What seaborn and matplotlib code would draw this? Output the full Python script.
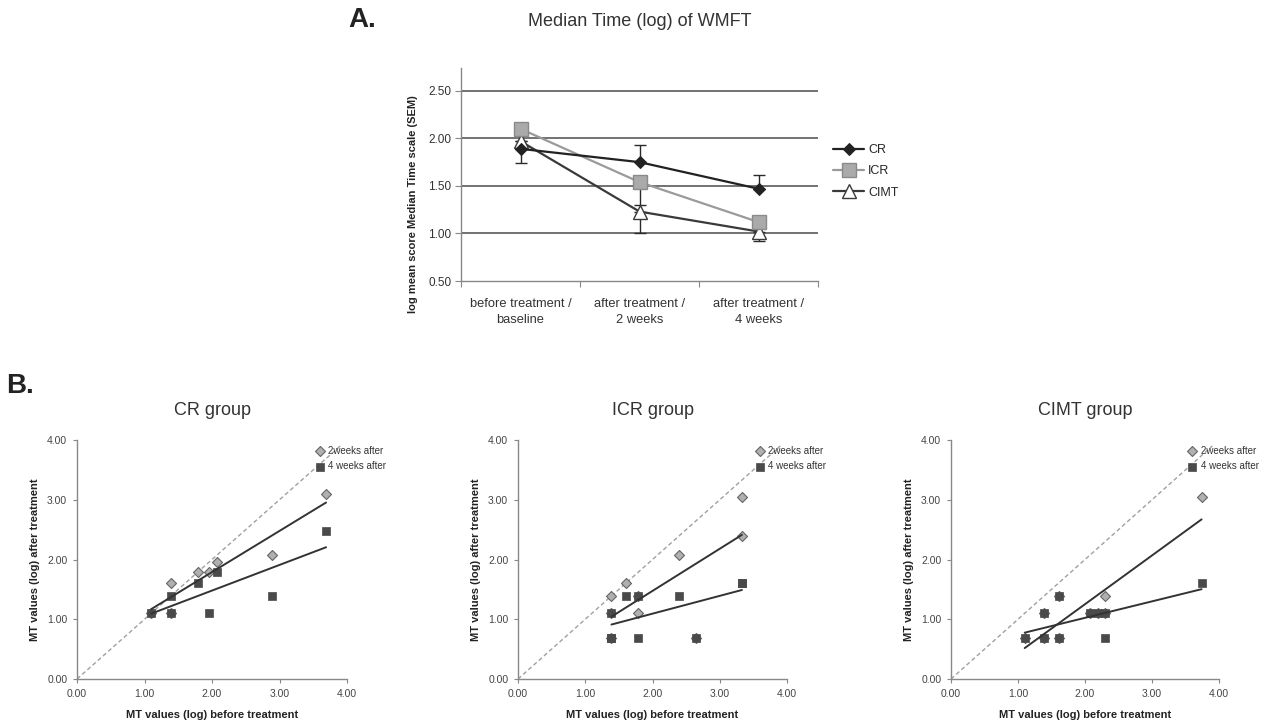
import matplotlib
matplotlib.use("Agg")
import matplotlib.pyplot as plt
import numpy as np
import seaborn as sns

# Panel A: log mean score of median time (SEM) per stage
stages = ["before treatment /\nbaseline", "after treatment /\n2 weeks", "after treatment /\n4 weeks"]
cr_mean = [1.89, 1.75, 1.47]
icr_mean = [2.10, 1.54, 1.12]
cimt_mean = [1.97, 1.23, 1.02]
# SEM bars as visible in the figure (lower, upper)
cr_sem_low = [0.15, 0.0, 0.0]
cr_sem_high = [0.0, 0.18, 0.14]
icr_sem_low = [0.0, 0.24, 0.0]
icr_sem_high = [0.0, 0.0, 0.0]
cimt_sem_low = [0.0, 0.23, 0.10]
cimt_sem_high = [0.0, 0.0, 0.0]

# Panel B: per-subject MT values (log), before vs after treatment
cr_before = [1.10, 1.39, 1.39, 1.79, 1.95, 2.08, 2.89, 3.69]
cr_2wk = [1.10, 1.61, 1.10, 1.79, 1.79, 1.95, 2.08, 3.09]
cr_4wk = [1.10, 1.39, 1.10, 1.61, 1.10, 1.79, 1.39, 2.48]

icr_before = [1.39, 1.39, 1.39, 1.61, 1.79, 1.79, 2.40, 2.64, 3.33, 3.33]
icr_2wk = [1.39, 1.10, 0.69, 1.61, 1.39, 1.10, 2.08, 0.69, 3.04, 2.40]
icr_4wk = [1.10, 0.69, 0.69, 1.39, 1.39, 0.69, 1.39, 0.69, 1.61, 1.61]

cimt_before = [1.10, 1.39, 1.39, 1.61, 1.61, 2.08, 2.20, 2.30, 2.30, 3.74]
cimt_2wk = [0.69, 1.10, 0.69, 1.39, 0.69, 1.10, 1.10, 1.10, 1.39, 3.04]
cimt_4wk = [0.69, 1.10, 0.69, 1.39, 0.69, 1.10, 1.10, 1.10, 0.69, 1.61]

identity = [0.0, 3.9]
scatter_ticks = [0, 1, 2, 3, 4]

sns.set_style("white")
plt.rcParams["font.family"] = ["Liberation Sans", "DejaVu Sans"]

W, H = 1269, 726
fig = plt.figure(figsize=(W / 100, H / 100), dpi=100)


def px_axes(left, top, right, bottom):
    return fig.add_axes([left / W, 1 - bottom / H, (right - left) / W, (bottom - top) / H])


# ---------- Panel A ----------
ax = px_axes(461, 68, 818, 281)
xpos = list(range(len(stages)))

ax.errorbar(xpos, cr_mean, yerr=[cr_sem_low, cr_sem_high], fmt="none",
            ecolor="#2a2a2a", elinewidth=1.0, capsize=4, capthick=1.0, zorder=2)
ax.errorbar(xpos, icr_mean, yerr=[icr_sem_low, icr_sem_high], fmt="none",
            ecolor="#2a2a2a", elinewidth=1.0, capsize=4, capthick=1.0, zorder=2)
ax.errorbar(xpos, cimt_mean, yerr=[cimt_sem_low, cimt_sem_high], fmt="none",
            ecolor="#2a2a2a", elinewidth=1.0, capsize=4, capthick=1.0, zorder=2)

sns.lineplot(x=xpos, y=cimt_mean, ax=ax, color="#3a3a3a", linewidth=1.6, marker="^",
             markersize=10, markerfacecolor="white", markeredgecolor="#3a3a3a",
             markeredgewidth=1.0, label="CIMT", zorder=3)
sns.lineplot(x=xpos, y=icr_mean, ax=ax, color="#9a9a9a", linewidth=1.6, marker="s",
             markersize=10, markerfacecolor="#aaaaaa", markeredgecolor="#8a8a8a",
             markeredgewidth=1.0, label="ICR", zorder=4)
sns.lineplot(x=xpos, y=cr_mean, ax=ax, color="#222222", linewidth=1.6, marker="D",
             markersize=6, markerfacecolor="#222222", markeredgecolor="#222222",
             label="CR", zorder=5)

ax.set_xlim(-0.5, 2.5)
ax.set_ylim(0.5, 2.74)
ax.set_yticks([0.5, 1.0, 1.5, 2.0, 2.5])
ax.set_yticklabels([f"{v:.2f}" for v in [0.5, 1.0, 1.5, 2.0, 2.5]], fontsize=8.5, color="#333333")
ax.set_xticks([-0.5, 0.5, 1.5, 2.5])
ax.set_xticklabels([])
ax.set_xticks(xpos, minor=True)
ax.set_xticklabels(stages, minor=True, fontsize=9.3, color="#333333", linespacing=1.45)
ax.tick_params(axis="x", which="major", length=4, direction="out", color="#888888", bottom=True)
ax.tick_params(axis="x", which="minor", length=0, pad=12)
ax.tick_params(axis="y", length=4, direction="out", color="#888888", left=True, pad=3)
for v in [1.0, 1.5, 2.0, 2.5]:
    ax.axhline(v, color="#5a5a5a", linewidth=1.2, zorder=1)
for s in ["top", "right"]:
    ax.spines[s].set_visible(False)
for s in ["left", "bottom"]:
    ax.spines[s].set_color("#888888")
    ax.spines[s].set_linewidth(1.0)
ax.set_xlabel("")
ax.set_ylabel("")

handles, labels = ax.get_legend_handles_labels()
order = [labels.index(n) for n in ["CR", "ICR", "CIMT"]]
fig.legend([handles[i] for i in order], [labels[i] for i in order],
           loc="upper left", bbox_to_anchor=(833 / W, 1 - 144 / H), frameon=False,
           fontsize=9, handlelength=2.5, handletextpad=0.3, labelspacing=0.75,
           borderpad=0, borderaxespad=0)
ax.get_legend().remove()

fig.text(413 / W, 1 - 204 / H, "log mean score Median Time scale (SEM)", rotation=90,
         ha="center", va="center", fontsize=8, fontweight="bold", color="#222222")
fig.text(640 / W, 1 - 22 / H, "Median Time (log) of WMFT", ha="center", va="center",
         fontsize=13, color="#333333")
fig.text(348 / W, 1 - 20 / H, "A.", ha="left", va="center", fontsize=20,
         fontweight="bold", color="#222222")
fig.text(6 / W, 1 - 386 / H, "B.", ha="left", va="center", fontsize=20,
         fontweight="bold", color="#222222")

# ---------- Panel B ----------
groups = [
    ("CR group", cr_before, cr_2wk, cr_4wk, (77, 347)),
    ("ICR group", icr_before, icr_2wk, icr_4wk, (518, 787)),
    ("CIMT group", cimt_before, cimt_2wk, cimt_4wk, (951, 1219)),
]

for title, before, wk2, wk4, (left, right) in groups:
    bx = px_axes(left, 440, right, 679)
    bx.plot(identity, identity, color="#a0a0a0", linestyle=(0, (3, 2)), linewidth=1.0, zorder=1)
    sns.scatterplot(x=before, y=wk2, ax=bx, marker="D", s=26, color="#b0b0b0",
                    edgecolor="#666666", linewidth=0.8, label="2weeks after", zorder=3)
    sns.scatterplot(x=before, y=wk4, ax=bx, marker="s", s=36, color="#4a4a4a",
                    edgecolor="#4a4a4a", linewidth=0.5, label="4 weeks after", zorder=4)
    sns.regplot(x=before, y=wk2, ax=bx, scatter=False, ci=None, truncate=True,
                line_kws={"color": "#333333", "linewidth": 1.4, "zorder": 5})
    sns.regplot(x=before, y=wk4, ax=bx, scatter=False, ci=None, truncate=True,
                line_kws={"color": "#333333", "linewidth": 1.4, "zorder": 5})

    bx.set_xlim(0, 4)
    bx.set_ylim(0, 4)
    bx.set_xticks(scatter_ticks)
    bx.set_yticks(scatter_ticks)
    bx.set_xticklabels([f"{v:.2f}" for v in scatter_ticks], fontsize=7.5, color="#444444")
    bx.set_yticklabels([f"{v:.2f}" for v in scatter_ticks], fontsize=7.5, color="#444444")
    bx.tick_params(length=3, direction="out", color="#888888", left=True, bottom=True, pad=4)
    for s in ["top", "right"]:
        bx.spines[s].set_visible(False)
    for s in ["left", "bottom"]:
        bx.spines[s].set_color("#888888")
        bx.spines[s].set_linewidth(1.0)
    bx.set_xlabel("MT values (log) before treatment", fontsize=8, fontweight="bold",
                  color="#222222", labelpad=8)
    bx.set_ylabel("MT values (log) after treatment", fontsize=8, fontweight="bold",
                  color="#222222", labelpad=5)
    bx.set_title(title, fontsize=13, color="#333333", pad=18)
    bx.legend(loc="upper left", bbox_to_anchor=(0.884, 0.975), frameon=False, fontsize=7,
              handlelength=0.8, handletextpad=0.5, labelspacing=0.55, borderpad=0,
              borderaxespad=0, labelcolor="#333333")

fig.savefig("out.png", dpi=100)
